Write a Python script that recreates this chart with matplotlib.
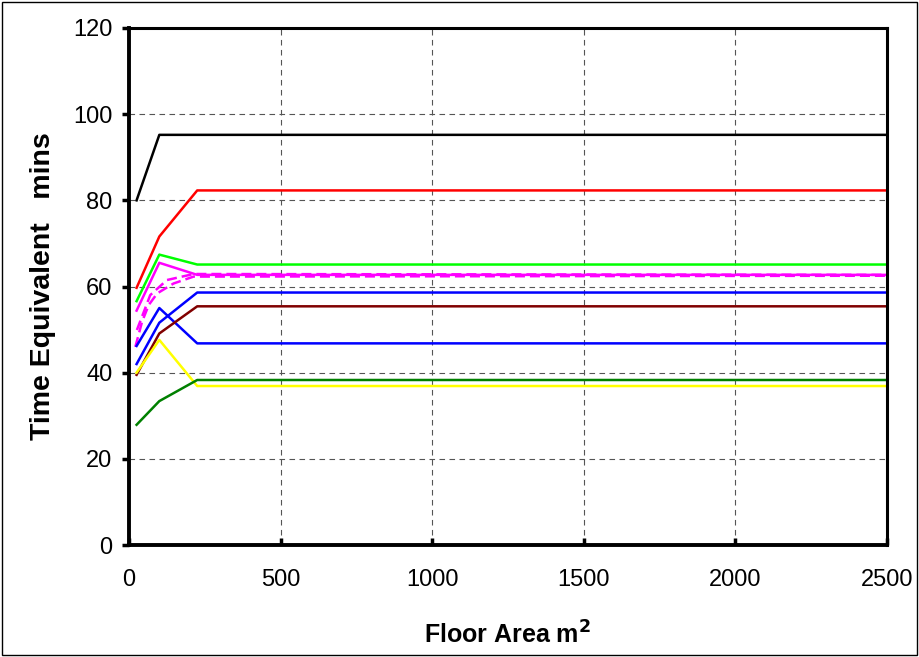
import matplotlib
matplotlib.use("Agg")
import matplotlib.pyplot as plt
from matplotlib.patches import Rectangle

# ---- data ----
area = [25, 100, 225, 2500]
black = [80, 95.2, 95.2, 95.2]
red = [59.7, 71.6, 82.3, 82.3]
lime = [56.6, 67.4, 65.1, 65.1]
magenta = [54.4, 65.5, 62.7, 62.7]
blue_a = [46.2, 55.0, 46.8, 46.8]
blue_b = [42.0, 51.6, 58.6, 58.6]
maroon = [39.5, 49.1, 55.4, 55.4]
yellow = [40.0, 47.6, 36.9, 36.9]
green = [27.9, 33.4, 38.3, 38.3]
dash_a_x = [26, 70, 125, 213, 2500]
dash_a_y = [49.9, 58.0, 61.5, 62.9, 62.7]
dash_b_x = [21, 43, 65, 93, 147, 213, 2500]
dash_b_y = [46.0, 51.8, 55.7, 58.4, 60.7, 62.3, 62.5]

xticks = [0, 500, 1000, 1500, 2000, 2500]
yticks = [0, 20, 40, 60, 80, 100, 120]

fam = "Liberation Sans"

fig = plt.figure(figsize=(9.19, 6.57), dpi=100)
W, H = 919, 657
ax = fig.add_axes([129 / W, 1 - 545 / H, (887 - 129) / W, (545 - 28) / H])

lw = 1.8
ax.plot(area, black, color="black", lw=lw)
ax.plot(area, red, color="#FF0000", lw=lw)
ax.plot(area, lime, color="#00FF00", lw=lw)
ax.plot(dash_a_x, dash_a_y, color="#FF00FF", lw=lw, ls=(0, (4, 2)))
ax.plot(dash_b_x, dash_b_y, color="#FF00FF", lw=lw, ls=(0, (4, 2)))
ax.plot(area, magenta, color="#FF00FF", lw=lw)
ax.plot(area, blue_a, color="#0000FF", lw=lw)
ax.plot(area, blue_b, color="#0000FF", lw=lw)
ax.plot(area, maroon, color="#800000", lw=lw)
ax.plot(area, yellow, color="#FFFF00", lw=lw)
ax.plot(area, green, color="#008000", lw=lw)

ax.set_xlim(0, 2500)
ax.set_ylim(0, 120)
ax.set_xticks(xticks)
ax.set_yticks(yticks)
ax.grid(True, color="#555555", ls=(0, (5, 4)), lw=0.8)
ax.set_axisbelow(True)

for s in ["left", "bottom"]:
    ax.spines[s].set_linewidth(2.8)
for s in ["top", "right"]:
    ax.spines[s].set_linewidth(2.2)

ax.tick_params(axis="y", direction="out", length=5, width=2.5, pad=7,
               labelsize=17)
ax.tick_params(axis="x", direction="in", length=5, width=2.5, pad=17,
               labelsize=17)
for lab in ax.get_xticklabels() + ax.get_yticklabels():
    lab.set_fontfamily(fam)

ax.set_xlabel("Floor Area m$^\\mathbf{2}$", fontsize=18, fontweight="bold",
              family=fam, labelpad=22)
ax.set_ylabel("Time Equivalent   mins", fontsize=20.5, fontweight="bold",
              family=fam, labelpad=12)

fig.patches.append(Rectangle((2 / W, 2 / H), 1 - 4 / W, 1 - 4 / H,
                             transform=fig.transFigure, fill=False,
                             ec="black", lw=1))

fig.savefig("out.png", dpi=100)
